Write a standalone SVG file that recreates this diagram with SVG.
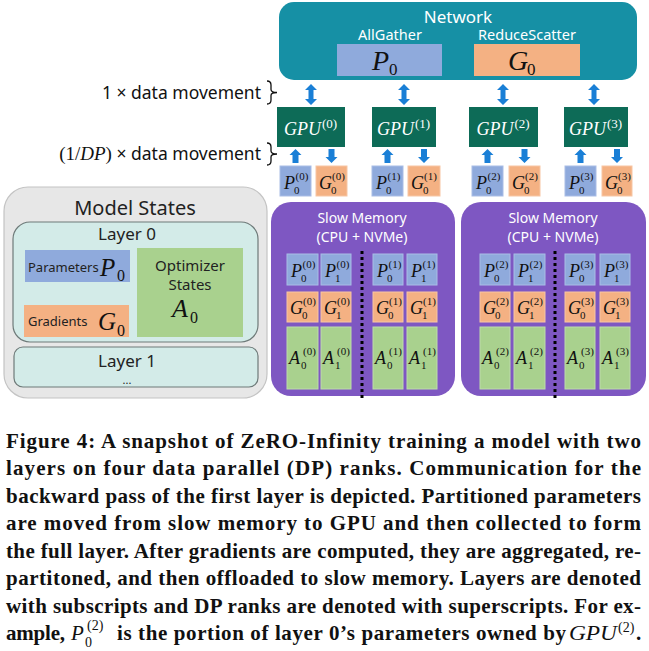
<svg xmlns="http://www.w3.org/2000/svg" width="649" height="651" viewBox="0 0 649 651">
<style>
.sans{font-family:"Noto Sans","Open Sans","DejaVu Sans",sans-serif}
.w{fill:#ffffff}
.d{fill:#222222}
.mi{font-family:"Liberation Serif","DejaVu Serif",serif;font-style:italic;font-size:18px;fill:#111}
.mn{font-family:"Liberation Serif","DejaVu Serif",serif;font-size:11px;fill:#111}
.cap{font-family:"Liberation Serif","DejaVu Serif",serif;font-weight:bold;font-size:21px;fill:#111}
.P{fill:#8faadc;stroke:#a9bde6;stroke-width:1}
.G{fill:#f4b183;stroke:#f7c6a4;stroke-width:1}
.A{fill:#a9d18e;stroke:#bddcaa;stroke-width:1}
.gpu{fill:#0d6b57}
.arr{fill:#1a7fd6}
.sm{fill:#7e57c2}
.dot{stroke:#000;stroke-width:3;stroke-dasharray:3 3;fill:none}
.lay{fill:#d3ebe8;stroke:#6e7a79;stroke-width:1.2}
</style>
<defs>
<path id="dbl" d="M0,84 L6,90 L2.5,90 L2.5,99 L6,99 L0,105 L-6,99 L-2.5,99 L-2.5,90 L-6,90 Z"/>
<path id="up" d="M0,149 L6,155 L3,155 L3,163 L-3,163 L-3,155 L-6,155 Z"/>
<path id="dn" d="M0,163 L6,157 L3,157 L3,149 L-3,149 L-3,157 L-6,157 Z"/>
</defs>

<g id="network">
<rect x="279" y="2" width="358" height="78" rx="15" fill="#1690a5"/>
<text class="sans w" x="458" y="23" font-size="17" text-anchor="middle">Network</text>
<text class="sans w" x="390" y="40" font-size="14.5" text-anchor="middle">AllGather</text>
<text class="sans w" x="527" y="40" font-size="14.5" text-anchor="middle">ReduceScatter</text>
<rect x="337" y="44" width="105" height="32" fill="#8faadc"/>
<rect x="474" y="44" width="106" height="32" fill="#f4b183"/>
<text class="mi" x="372" y="70" style="font-size:28px">P</text><text class="mn" x="389" y="75" style="font-size:17px">0</text>
<text class="mi" x="508" y="70" style="font-size:28px">G</text><text class="mn" x="527" y="75" style="font-size:17px">0</text>
</g>

<g id="labels">
<text class="sans" x="261" y="99" font-size="17.5" text-anchor="end" fill="#111">1 × data movement</text>
<text class="sans" x="261" y="160" font-size="17.5" text-anchor="end" fill="#111"><tspan class="mn" style="font-size:19px">(1/</tspan><tspan class="mi" style="font-size:19px">DP</tspan><tspan class="mn" style="font-size:19px">)</tspan> × data movement</text>
<path d="M267,81 Q271,81 271,85 L271,89.5 Q271,92.5 277,92.5 Q271,92.5 271,95.5 L271,100 Q271,104 267,104" fill="none" stroke="#111" stroke-width="1.3"/>
<path d="M267,143 Q271,143 271,147 L271,151 Q271,154 277,154 Q271,154 271,157 L271,161 Q271,165 267,165" fill="none" stroke="#111" stroke-width="1.3"/>
</g>

<g id="gpu0">
<rect class="gpu" x="277" y="107" width="68" height="40"/>
<text class="mi" x="284" y="135" style="fill:#fff">GPU</text><text class="mn" x="322" y="128" style="fill:#fff;font-size:13px">(0)</text>
<rect class="P" x="280" y="166" width="31" height="30"/>
<text class="mi" x="284" y="189">P</text><text class="mn" x="294" y="194">0</text><text class="mn" x="295.5" y="180">(0)</text>
<rect class="G" x="316" y="166" width="31" height="30"/>
<text class="mi" x="319" y="189">G</text><text class="mn" x="331" y="194">0</text><text class="mn" x="332" y="180">(0)</text>
</g>
<g id="gpu1">
<rect class="gpu" x="372" y="107" width="64" height="40"/>
<text class="mi" x="377" y="135" style="fill:#fff">GPU</text><text class="mn" x="415" y="128" style="fill:#fff;font-size:13px">(1)</text>
<rect class="P" x="372" y="166" width="31" height="30"/>
<text class="mi" x="376" y="189">P</text><text class="mn" x="386" y="194">0</text><text class="mn" x="387.5" y="180">(1)</text>
<rect class="G" x="408" y="166" width="32" height="30"/>
<text class="mi" x="411" y="189">G</text><text class="mn" x="423" y="194">0</text><text class="mn" x="424" y="180">(1)</text>
</g>
<g id="gpu2">
<rect class="gpu" x="469" y="107" width="69" height="40"/>
<text class="mi" x="476.5" y="135" style="fill:#fff">GPU</text><text class="mn" x="514.5" y="128" style="fill:#fff;font-size:13px">(2)</text>
<rect class="P" x="472" y="166" width="31" height="30"/>
<text class="mi" x="476" y="189">P</text><text class="mn" x="486" y="194">0</text><text class="mn" x="487.5" y="180">(2)</text>
<rect class="G" x="509" y="166" width="31" height="30"/>
<text class="mi" x="512" y="189">G</text><text class="mn" x="524" y="194">0</text><text class="mn" x="525" y="180">(2)</text>
</g>
<g id="gpu3">
<rect class="gpu" x="564" y="107" width="64" height="40"/>
<text class="mi" x="569" y="135" style="fill:#fff">GPU</text><text class="mn" x="607" y="128" style="fill:#fff;font-size:13px">(3)</text>
<rect class="P" x="565" y="166" width="31" height="30"/>
<text class="mi" x="569" y="189">P</text><text class="mn" x="579" y="194">0</text><text class="mn" x="580.5" y="180">(3)</text>
<rect class="G" x="602" y="166" width="30" height="30"/>
<text class="mi" x="605" y="189">G</text><text class="mn" x="617" y="194">0</text><text class="mn" x="618" y="180">(3)</text>
</g>

<g id="connectors" class="arr">
<use href="#dbl" x="311"/><use href="#dbl" x="404"/><use href="#dbl" x="503"/><use href="#dbl" x="594"/>
<use href="#up" x="295.5"/><use href="#up" x="387.5"/><use href="#up" x="487.5"/><use href="#up" x="580.5"/>
<use href="#dn" x="331.5"/><use href="#dn" x="424"/><use href="#dn" x="524.5"/><use href="#dn" x="617"/>
</g>

<g id="model-states">
<rect x="4" y="187" width="263" height="211" rx="24" fill="#e7e7e7" stroke="#c4c4c4" stroke-width="1.2"/>
<text class="sans d" x="135" y="215" font-size="20" text-anchor="middle">Model States</text>
<rect class="lay" x="13" y="222" width="245" height="120" rx="17"/>
<text class="sans d" x="127" y="240" font-size="17" text-anchor="middle">Layer 0</text>
<rect x="25" y="250" width="105" height="32" fill="#8faadc"/>
<text class="sans d" x="28" y="272" font-size="13">Parameters</text>
<text class="mi" x="100" y="276" style="font-size:25px">P</text><text class="mn" x="117" y="281" style="font-size:16px">0</text>
<rect x="24" y="305" width="105" height="32" fill="#f4b183"/>
<text class="sans d" x="28" y="326" font-size="13">Gradients</text>
<text class="mi" x="98" y="330" style="font-size:25px">G</text><text class="mn" x="117" y="336" style="font-size:16px">0</text>
<rect x="137" y="248" width="106" height="89" fill="#a9d18e"/>
<text class="sans d" x="190" y="271" font-size="15" text-anchor="middle">Optimizer</text>
<text class="sans d" x="190" y="290" font-size="15" text-anchor="middle">States</text>
<text class="mi" x="172" y="317" style="font-size:26px">A</text><text class="mn" x="190" y="323" style="font-size:16px">0</text>
<rect class="lay" x="14" y="347" width="244" height="40" rx="9"/>
<text class="sans d" x="127" y="367" font-size="17" text-anchor="middle">Layer 1</text>
<text class="sans d" x="127" y="384" font-size="11" text-anchor="middle">...</text>
</g>

<g id="slow-memory-a">
<rect class="sm" x="271" y="202" width="184" height="194" rx="20"/>
<text class="sans w" x="362" y="223" font-size="14" text-anchor="middle">Slow Memory</text>
<text class="sans w" x="362" y="242" font-size="14" text-anchor="middle">(CPU + NVMe)</text>
<line class="dot" x1="362" y1="251" x2="362" y2="398"/>
<rect class="P" x="287" y="254" width="31" height="31"/><rect class="P" x="321" y="254" width="30" height="31"/><rect class="P" x="373" y="254" width="30" height="31"/><rect class="P" x="407" y="254" width="30" height="31"/>
<rect class="G" x="287" y="292" width="31" height="30"/><rect class="G" x="321" y="292" width="30" height="30"/><rect class="G" x="373" y="292" width="30" height="30"/><rect class="G" x="407" y="292" width="30" height="30"/>
<rect class="A" x="287" y="327" width="31" height="62"/><rect class="A" x="321" y="327" width="30" height="62"/><rect class="A" x="373" y="327" width="30" height="62"/><rect class="A" x="407" y="327" width="30" height="62"/>
<text class="mi" x="291" y="277">P</text><text class="mn" x="301" y="282">0</text><text class="mn" x="302.5" y="268">(0)</text>
<text class="mi" x="325" y="277">P</text><text class="mn" x="335" y="282">1</text><text class="mn" x="336.5" y="268">(0)</text>
<text class="mi" x="377" y="277">P</text><text class="mn" x="387" y="282">0</text><text class="mn" x="388.5" y="268">(1)</text>
<text class="mi" x="411" y="277">P</text><text class="mn" x="421" y="282">1</text><text class="mn" x="422.5" y="268">(1)</text>
<text class="mi" x="290" y="314">G</text><text class="mn" x="302" y="319">0</text><text class="mn" x="303" y="305">(0)</text>
<text class="mi" x="324" y="314">G</text><text class="mn" x="336" y="319">1</text><text class="mn" x="337" y="305">(0)</text>
<text class="mi" x="376" y="314">G</text><text class="mn" x="388" y="319">0</text><text class="mn" x="389" y="305">(1)</text>
<text class="mi" x="410" y="314">G</text><text class="mn" x="422" y="319">1</text><text class="mn" x="423" y="305">(1)</text>
<text class="mi" x="289" y="364">A</text><text class="mn" x="301" y="369">0</text><text class="mn" x="303" y="355">(0)</text>
<text class="mi" x="323" y="364">A</text><text class="mn" x="335" y="369">1</text><text class="mn" x="337" y="355">(0)</text>
<text class="mi" x="375" y="364">A</text><text class="mn" x="387" y="369">0</text><text class="mn" x="389" y="355">(1)</text>
<text class="mi" x="409" y="364">A</text><text class="mn" x="421" y="369">1</text><text class="mn" x="423" y="355">(1)</text>
</g>

<g id="slow-memory-b">
<rect class="sm" x="461" y="202" width="185" height="194" rx="20"/>
<text class="sans w" x="553" y="223" font-size="14" text-anchor="middle">Slow Memory</text>
<text class="sans w" x="553" y="242" font-size="14" text-anchor="middle">(CPU + NVMe)</text>
<line class="dot" x1="555" y1="251" x2="555" y2="398"/>
<rect class="P" x="480" y="254" width="30" height="31"/><rect class="P" x="514" y="254" width="31" height="31"/><rect class="P" x="565" y="254" width="30" height="31"/><rect class="P" x="600" y="254" width="30" height="31"/>
<rect class="G" x="480" y="292" width="30" height="30"/><rect class="G" x="514" y="292" width="31" height="30"/><rect class="G" x="565" y="292" width="30" height="30"/><rect class="G" x="600" y="292" width="30" height="30"/>
<rect class="A" x="480" y="327" width="30" height="62"/><rect class="A" x="514" y="327" width="31" height="62"/><rect class="A" x="565" y="327" width="30" height="62"/><rect class="A" x="600" y="327" width="30" height="62"/>
<text class="mi" x="484" y="277">P</text><text class="mn" x="494" y="282">0</text><text class="mn" x="495.5" y="268">(2)</text>
<text class="mi" x="518" y="277">P</text><text class="mn" x="528" y="282">1</text><text class="mn" x="529.5" y="268">(2)</text>
<text class="mi" x="569" y="277">P</text><text class="mn" x="579" y="282">0</text><text class="mn" x="580.5" y="268">(3)</text>
<text class="mi" x="604" y="277">P</text><text class="mn" x="614" y="282">1</text><text class="mn" x="615.5" y="268">(3)</text>
<text class="mi" x="483" y="314">G</text><text class="mn" x="495" y="319">0</text><text class="mn" x="496" y="305">(2)</text>
<text class="mi" x="517" y="314">G</text><text class="mn" x="529" y="319">1</text><text class="mn" x="530" y="305">(2)</text>
<text class="mi" x="568" y="314">G</text><text class="mn" x="580" y="319">0</text><text class="mn" x="581" y="305">(3)</text>
<text class="mi" x="603" y="314">G</text><text class="mn" x="615" y="319">1</text><text class="mn" x="616" y="305">(3)</text>
<text class="mi" x="482" y="364">A</text><text class="mn" x="494" y="369">0</text><text class="mn" x="496" y="355">(2)</text>
<text class="mi" x="516" y="364">A</text><text class="mn" x="528" y="369">1</text><text class="mn" x="530" y="355">(2)</text>
<text class="mi" x="567" y="364">A</text><text class="mn" x="579" y="369">0</text><text class="mn" x="581" y="355">(3)</text>
<text class="mi" x="602" y="364">A</text><text class="mn" x="614" y="369">1</text><text class="mn" x="616" y="355">(3)</text>
</g>

<g id="caption">
<text class="cap" x="6" y="447.5" textLength="635" lengthAdjust="spacing">Figure 4: A snapshot of ZeRO-Infinity training a model with two</text>
<text class="cap" x="6" y="475" textLength="635" lengthAdjust="spacing">layers on four data parallel (DP) ranks. Communication for the</text>
<text class="cap" x="6" y="502.5" textLength="635" lengthAdjust="spacing">backward pass of the first layer is depicted. Partitioned parameters</text>
<text class="cap" x="6" y="530" textLength="635" lengthAdjust="spacing">are moved from slow memory to GPU and then collected to form</text>
<text class="cap" x="6" y="557.5" textLength="635" lengthAdjust="spacing">the full layer. After gradients are computed, they are aggregated, re-</text>
<text class="cap" x="6" y="585" textLength="635" lengthAdjust="spacing">partitoned, and then offloaded to slow memory. Layers are denoted</text>
<text class="cap" x="6" y="612.5" textLength="635" lengthAdjust="spacing">with subscripts and DP ranks are denoted with superscripts. For ex-</text>
<text class="cap" x="6" y="640" textLength="59" lengthAdjust="spacing">ample,</text>
<text class="mi" x="71" y="640" style="font-size:21px">P</text><text class="mn" x="85" y="647" style="font-size:14px">0</text><text class="mn" x="87" y="630" style="font-size:14px">(2)</text>
<text class="cap" x="117" y="640" textLength="449" lengthAdjust="spacing">is the portion of layer 0’s parameters owned by</text>
<text class="mi" x="569" y="640" style="font-size:21px" textLength="48" lengthAdjust="spacingAndGlyphs">GPU</text><text class="mn" x="618" y="632" style="font-size:14px">(2)</text>
<text class="cap" x="636" y="640">.</text>
</g>
</svg>
